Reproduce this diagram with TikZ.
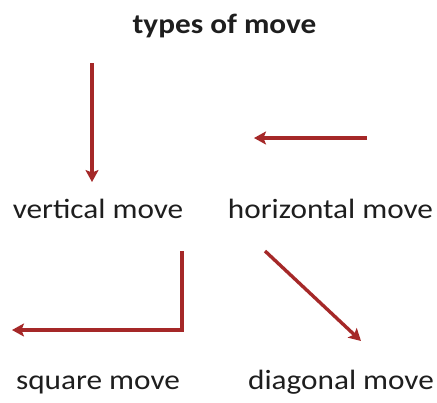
\documentclass[tikz,border=0pt]{standalone}
\usepackage{fontspec}
\usepackage{graphicx}
\setmainfont{Carlito}
\usetikzlibrary{arrows.meta}
\newcommand\widetext[1]{\scalebox{1.12}[1]{#1}}
\definecolor{arrowred}{RGB}{165,40,40}
\definecolor{txt}{RGB}{30,30,30}
\tikzset{
  lbl/.style={anchor=base, text=txt, inner sep=0pt, font=\fontsize{28}{34}\selectfont},
  ttl/.style={lbl, font=\fontsize{28}{34}\selectfont\bfseries},
  mv/.style={draw=arrowred, line width=3.4pt, -{Stealth[length=12pt,width=13pt,inset=2.5pt]}}
}
\begin{document}
\begin{tikzpicture}[x=1bp,y=-1bp]
\useasboundingbox (0,0) rectangle (437,402);
\fill[white] (0,0) rectangle (437,402);
\node[ttl] (title) at (224.5,33) {\widetext{types of move}};
\node[lbl] (vert) at (98,218) {\widetext{vertical move}};
\node[lbl] (horiz) at (330.5,218) {\widetext{horizontal move}};
\node[lbl] (square) at (98,389) {\widetext{square move}};
\node[lbl] (diag) at (341,389) {\widetext{diagonal move}};
% arrows
\coordinate (v1) at (92,63);
\coordinate (v2) at (92,182);
\draw[mv] (v1) -- (v2);
\coordinate (h1) at (367,138);
\coordinate (h2) at (254,138);
\draw[mv] (h1) -- (h2);
\coordinate (s1) at (182,251);
\coordinate (s2) at (182,330);
\coordinate (s3) at (12,330);
\draw[mv] (s1) -- (s2) -- (s3);
\coordinate (d1) at (265,251);
\coordinate (d2) at (361,341);
\draw[mv] (d1) -- (d2);
\end{tikzpicture}
\end{document}
